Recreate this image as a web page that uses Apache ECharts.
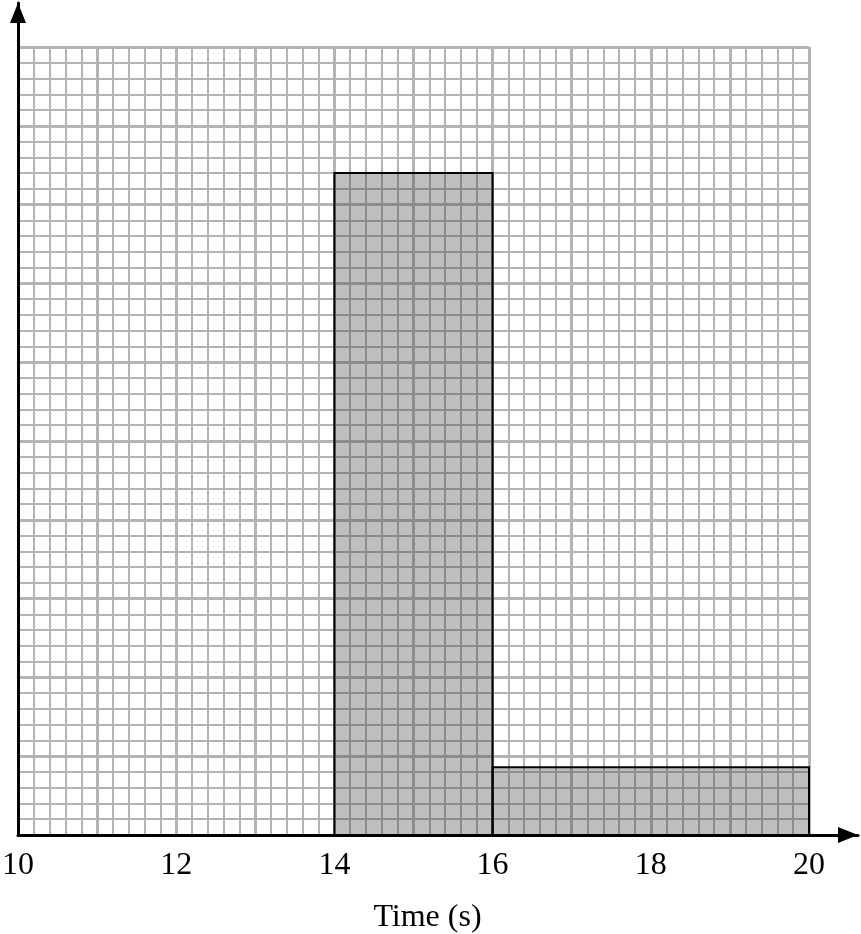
<!DOCTYPE html>
<html>
<head>
<meta charset="utf-8">
<script src="https://cdn.jsdelivr.net/npm/echarts@6/dist/echarts.min.js"></script>
<style>
  html, body { margin: 0; padding: 0; background: #fff; }
  #main { width: 861px; height: 934px; }
</style>
</head>
<body>
<div id="main"></div>
<script>
// histogram bins (time in seconds) and bar heights
var binStart = [14, 16];
var binEnd = [16, 20];
var density = [42, 4.3];
var xTicks = [10, 12, 14, 16, 18, 20];

var chart = echarts.init(document.getElementById('main'));

var bars = binStart.map(function (s, i) {
  return [s, binEnd[i], density[i]];
});

var gridColor = '#b4b4b4';
var font = '"Liberation Serif", "Times New Roman", serif';

// black axis with a solid arrow head
function arrowAxis(idx) {
  return {
    gridIndex: idx,
    type: 'value',
    min: 0,
    max: 1,
    z: 5,
    axisLine: {
      show: true,
      onZero: false,
      symbol: ['none', 'triangle'],
      symbolSize: [16, 20],
      symbolOffset: [0, -10],
      lineStyle: { color: '#000', width: 3 }
    },
    axisTick: { show: false },
    axisLabel: { show: false },
    splitLine: { show: false }
  };
}

var option = {
  animation: false,
  grid: [
    // paper grid
    { left: 18, right: 52, top: 47, bottom: 99, outerBoundsMode: 'none' },
    // axes with arrows, a bit longer than the paper
    { left: 18, right: 3, top: 3, bottom: 99, outerBoundsMode: 'none' }
  ],
  xAxis: [{
    gridIndex: 0,
    type: 'value',
    min: 10,
    max: 20,
    interval: 1,
    axisLine: { show: false },
    axisTick: { show: false },
    axisLabel: {
      margin: 15,
      fontFamily: font,
      fontSize: 32,
      color: '#000',
      formatter: function (v) {
        return xTicks.indexOf(v) >= 0 ? String(v) : '';
      }
    },
    splitLine: { show: true, lineStyle: { color: gridColor, width: 3 } },
    minorTick: { show: false, splitNumber: 5 },
    minorSplitLine: { show: true, lineStyle: { color: gridColor, width: 2 } },
    name: 'Time (s)',
    nameLocation: 'middle',
    nameGap: 67,
    nameTextStyle: { fontFamily: font, fontSize: 32, color: '#000', padding: [0, 0, 0, 28] }
  }, arrowAxis(1)],
  yAxis: [{
    gridIndex: 0,
    type: 'value',
    min: 0,
    max: 50,
    interval: 5,
    axisLine: { show: false },
    axisTick: { show: false },
    axisLabel: { show: false },
    splitLine: { show: true, lineStyle: { color: gridColor, width: 3 } },
    minorTick: { show: false, splitNumber: 5 },
    minorSplitLine: { show: true, lineStyle: { color: gridColor, width: 2 } }
  }, arrowAxis(1)],
  series: [{
    type: 'custom',
    xAxisIndex: 0,
    yAxisIndex: 0,
    z: 3,
    encode: { x: [0, 1], y: 2 },
    data: bars,
    renderItem: function (params, api) {
      var p0 = api.coord([api.value(0), api.value(2)]);
      var p1 = api.coord([api.value(1), 0]);
      return {
        type: 'rect',
        shape: { x: p0[0], y: p0[1], width: p1[0] - p0[0], height: p1[1] - p0[1] },
        style: { fill: 'rgba(55,55,55,0.32)', stroke: '#000', lineWidth: 2 }
      };
    }
  }]
};

chart.setOption(option);
</script>
</body>
</html>
